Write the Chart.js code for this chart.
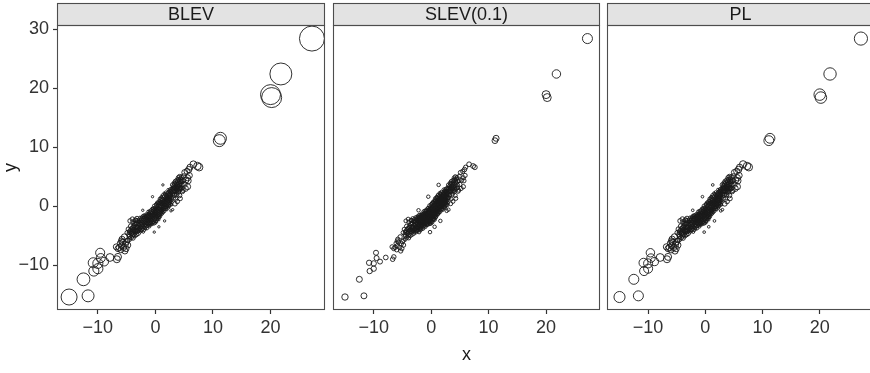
<!DOCTYPE html>
<html>
<head>
<meta charset="utf-8">
<title>BLEV / SLEV / PL subsampling</title>
<script src="https://cdn.jsdelivr.net/npm/chart.js@4.4.1/dist/chart.umd.min.js"></script>
<style>
  html, body { margin: 0; padding: 0; background: #fff; overflow: hidden; }
  #wrap { position: relative; width: 870px; height: 373px; overflow: hidden; }
  canvas { position: absolute; top: 0; }
</style>
</head>
<body>
<div id="wrap">
  <canvas id="c0" width="327" height="373" style="left:0px"></canvas>
  <canvas id="c1" width="278" height="373" style="left:327px"></canvas>
  <canvas id="c2" width="278" height="373" style="left:600px"></canvas>
</div>
<script>
// ---- data ---------------------------------------------------------------
const panelNames = ['BLEV', 'SLEV(0.1)', 'PL'];
const xTickValues = [-10, 0, 10, 20];
const yTickValues = [-10, 0, 10, 20, 30];
const xLimits = [-17.1, 29.4];
const yLimits = [-17.6, 30.7];

// dense centre of the cloud (|x| < 3)
const corePts = [
  [-2.8,-3.9],[-2.7,-2.6],[-2.6,-3.4],[-2.5,-4.1],[-2.5,-2.2],[-2.4,-3.0],[-2.3,-3.7],[-2.3,-1.9],
  [-2.2,-2.7],[-2.1,-3.3],[-2.1,-4.4],[-2.0,-2.3],[-2.0,-1.5],[-1.9,-3.0],[-1.9,-2.6],[-1.8,-3.8],
  [-1.8,-1.9],[-1.7,-2.4],[-1.7,-3.2],[-1.6,-1.3],[-1.6,-2.8],[-1.5,-2.0],[-1.5,-3.5],[-1.4,-2.5],
  [-1.4,-1.6],[-1.3,-3.0],[-1.3,-0.9],[-1.2,-2.1],[-1.2,-2.7],[-1.1,-1.4],[-1.1,-3.3],[-1.0,-1.9],
  [-1.0,-2.4],[-0.9,-0.8],[-0.9,-2.9],[-0.8,-1.6],[-0.8,-2.2],[-0.7,-1.1],[-0.7,-3.1],[-0.6,-1.8],
  [-0.6,-0.4],[-0.5,-2.5],[-0.5,-1.3],[-0.4,-0.9],[-0.4,-2.0],[-0.3,-1.5],[-0.3,0.1],[-0.2,-2.3],
  [-0.2,-0.6],[-0.1,-1.2],[-0.1,-1.9],[0.0,-0.3],[0.0,-1.6],[0.0,-0.9],[0.1,-2.6],[0.1,0.4],
  [0.2,-1.1],[0.2,-0.2],[0.3,-1.8],[0.3,0.7],[0.4,-0.6],[0.4,-1.4],[0.5,0.2],[0.5,-2.1],
  [0.6,-0.9],[0.6,1.0],[0.7,-0.3],[0.7,-1.6],[0.8,0.5],[0.8,-1.1],[0.9,-0.1],[0.9,1.4],
  [1.0,-0.7],[1.0,0.8],[1.1,-1.4],[1.1,0.2],[1.2,1.1],[1.2,-0.4],[1.3,0.6],[1.3,-1.0],
  [1.4,1.7],[1.4,0.0],[1.5,0.9],[1.5,-0.6],[1.6,1.4],[1.6,0.3],[1.7,-0.2],[1.7,2.0],
  [1.8,0.7],[1.8,1.2],[1.9,-0.5],[1.9,1.8],[2.0,0.4],[2.0,1.0],[2.1,2.3],[2.1,0.0],
  [2.2,1.5],[2.2,0.7],[2.3,2.0],[2.3,-0.3],[2.4,1.1],[2.4,2.6],[2.5,0.5],[2.5,1.7],
  [2.6,2.2],[2.6,0.9],[2.7,1.4],[2.7,3.0],[2.8,0.2],[2.8,2.0],
  [-2.2,-1.6],[-1.9,-3.6],[-1.6,-2.2],[-1.3,-2.4],[-1.2,-1.2],[-1.0,-3.0],[-0.9,-1.4],[-0.8,-2.7],
  [-0.6,-2.3],[-0.5,-0.7],[-0.4,-2.8],[-0.3,-1.1],[-0.2,-1.7],[-0.1,-0.4],[0.0,-2.2],[0.1,-1.3],
  [0.2,-0.7],[0.3,-2.3],[0.4,0.1],[0.5,-1.2],[0.6,-0.4],[0.7,0.9],[0.8,-1.9],[0.9,0.3],
  [1.0,-0.2],[1.1,1.5],[1.2,0.4],[1.3,-0.5],[1.4,0.9],[1.5,0.2],[1.6,2.1],[1.7,0.9],
  [1.8,-0.1],[1.9,1.3],[2.0,1.6],[2.1,0.9],[2.2,2.8],[2.3,1.3],[2.4,0.4],[2.5,2.4],
  [2.6,1.5],[-2.6,-2.9],[-2.4,-3.6],[-2.0,-2.8],[-1.7,-1.7],[-1.5,-2.6],[-1.1,-2.0],[-0.7,-1.9],
  [-0.2,-1.0],[0.2,-1.5],
  [1.3,3.6],[-0.5,1.6],[-2.2,-0.7],[0.6,-3.5],[-0.2,-4.4],[2.7,-0.8],[1.6,-2.5],[3.0,-0.6],
  [-3.0,-3.8],[-3.0,-2.6],[-2.9,-4.3],[-2.9,-3.1],[-2.9,-2.2],[-2.8,-3.3],[-2.8,-2.7],[-2.7,-4.0],
  [-2.7,-3.5],[-2.7,-1.9],[-2.6,-4.4],[-2.6,-2.4],[-2.5,-3.6],[-2.5,-2.9],[-2.4,-4.2],[-2.4,-2.5],
  [-2.4,-1.8],[-2.3,-3.2],[-2.3,-2.6],[-2.2,-4.0],[-2.2,-3.5],[-2.2,-2.2],[-2.1,-2.8],[-2.1,-1.9],
  [-2.0,-3.6],[-2.0,-3.1],[-2.0,-2.0],[-1.9,-4.1],[-1.9,-2.2],[-1.8,-3.3],[-1.8,-2.7],[-1.8,-1.5],
  [-1.7,-3.9],[-1.7,-2.0],[-1.6,-3.3],[-1.6,-2.5],[-1.6,-1.8],[-1.5,-3.0],[-1.5,-1.5],[-1.4,-3.8],
  [-1.4,-2.9],[-1.4,-2.1],[-1.3,-3.4],[-1.3,-1.9],[-1.3,-1.3],[-1.2,-3.1],[-1.2,-1.7],[-1.1,-2.6],
  [-1.1,-2.3],[-1.1,-0.8],[-1.0,-3.5],[-1.0,-1.5],[-1.0,-1.2],[-0.9,-2.5],[-0.9,-2.0],[-0.8,-3.2],
  [-0.8,-1.3],[-0.8,-0.6],[-0.7,-2.5],[-0.7,-2.2],[-0.7,-1.4],[-0.6,-2.9],[-0.6,-1.1],[-0.5,-3.1],
  [-0.5,-1.9],[-0.5,-0.3],[-0.4,-2.4],[-0.4,-1.6],[-0.4,-1.2],[-0.3,-2.7],[-0.3,-2.0],[-0.3,-0.6],
  [-0.2,-3.0],[-0.2,-1.4],[-0.2,-0.2],[-0.1,-2.5],[-0.1,-1.6],[-0.1,-0.8],[0.0,-2.9],[0.0,-1.3],
  [0.0,-0.5],[0.0,0.3],[0.1,-2.0],[0.1,-0.9],[0.1,-0.5],[0.2,-2.7],[0.2,-1.8],[0.2,-0.4],
  [0.2,0.5],[0.3,-1.3],[0.3,-1.0],[0.3,0.0],[0.4,-2.3],[0.4,-1.9],[0.4,-0.2],[0.4,0.6],
  [0.5,-1.7],[0.5,-0.8],[0.5,-0.4],[0.6,-2.3],[0.6,-1.3],[0.6,0.4],[0.7,-1.9],[0.7,-0.9],
  [0.7,0.2],[0.7,1.3],[0.8,-1.4],[0.8,-0.6],[0.8,0.9],[0.9,-1.7],[0.9,-0.8],[0.9,0.7],
  [1.0,-1.2],[1.0,-0.4],[1.0,0.3],[1.0,1.6],[1.1,-0.9],[1.1,-0.5],[1.1,0.6],[1.2,-1.3],
  [1.2,-0.1],[1.2,0.8],[1.2,1.9],[1.3,-0.7],[1.3,0.2],[1.3,1.3],[1.4,-1.1],[1.4,-0.4],
  [1.4,0.5],[1.5,-0.2],[1.5,0.5],[1.5,1.2],[1.5,2.2],[1.6,-0.9],[1.6,0.0],[1.6,0.8],
  [1.7,-0.6],[1.7,0.4],[1.7,1.4],[1.7,1.1],[1.8,0.2],[1.8,1.6],[1.8,2.4],[1.9,-0.2],
  [1.9,0.6],[1.9,0.9],[2.0,-0.6],[2.0,0.1],[2.0,1.3],[2.0,2.0],[2.1,0.4],[2.1,1.4],
  [2.1,1.8],[2.2,-0.1],[2.2,0.3],[2.2,1.1],[2.2,2.1],[2.3,0.7],[2.3,1.6],[2.3,2.5],
  [2.4,-0.1],[2.4,0.8],[2.4,1.5],[2.5,0.1],[2.5,1.1],[2.5,2.0],[2.5,2.9],[2.6,0.5],
  [2.6,1.2],[2.6,2.6],[2.7,0.3],[2.7,0.8],[2.7,2.1],[2.8,1.0],[2.8,1.7],[2.8,2.5],
  [2.9,0.6],[2.9,1.4],[2.9,2.2],[2.9,3.1]
];

// shoulders of the cloud (3 < |x| < 5)
const midPts = [
  [-3.0,-3.2],[-3.0,-4.6],[-3.1,-2.5],[-3.2,-3.9],[-3.3,-4.8],[-3.3,-2.9],[-3.4,-3.6],[-3.5,-4.3],
  [-3.5,-2.4],[-3.6,-5.0],[-3.7,-3.3],[-3.8,-4.1],[-3.9,-5.4],[-3.9,-2.7],[-4.0,-3.7],[-4.1,-4.6],
  [-4.2,-5.3],[-4.3,-3.4],[-4.4,-4.2],[-4.5,-5.6],[-4.6,-4.8],[-4.7,-3.9],[-4.8,-5.8],[-4.9,-4.5],
  [-3.2,-2.1],[-4.4,-2.5],[-3.4,-2.4],[-4.0,-2.2],
  [-3.1,-3.6],[-3.1,-4.2],[-3.3,-3.5],[-3.3,-4.1],[-3.4,-3.0],[-3.4,-4.4],[-3.6,-4.0],[-3.6,-3.0],
  [-3.8,-3.6],[-3.8,-4.8],[-4.0,-4.3],[-4.0,-5.0],[-4.2,-3.9],[-4.2,-4.6],[-4.5,-4.4],[-4.5,-5.1],
  [3.0,2.1],[3.0,3.6],[3.1,1.4],[3.2,2.8],[3.3,3.9],[3.3,1.9],[3.4,2.5],[3.5,4.2],
  [3.5,1.2],[3.6,3.1],[3.7,2.0],[3.8,4.4],[3.9,3.3],[4.0,2.4],[4.0,4.8],[4.1,3.7],
  [4.2,1.8],[4.3,4.2],[4.4,3.0],[4.5,4.9],[4.6,3.6],[4.7,2.5],[4.8,4.3],[4.9,5.1],
  [4.3,1.3],[3.8,0.8],[3.4,0.4],[4.2,5.0],[4.8,2.7],
  [3.1,2.4],[3.1,3.0],[3.2,1.9],[3.2,3.4],[3.3,2.6],[3.3,3.2],[3.4,3.0],[3.4,3.7],
  [3.6,2.5],[3.6,3.9],[3.7,3.4],[3.7,2.8],[3.8,3.0],[3.8,3.7],[3.9,2.6],[3.9,4.1],
  [4.1,3.1],[4.1,4.5],[4.2,2.8],[4.2,3.4],[4.4,3.9],[4.4,4.6],[4.6,4.2],[4.6,3.1]
];

// outer part of the cloud (5 < |x| < 7)
const edgePts = [
  [-5.0,-6.0],[-5.2,-6.4],[-5.4,-5.2],[-5.5,-7.0],[-5.7,-6.1],[-5.9,-6.7],[-6.0,-7.4],[-6.1,-6.3],
  [-6.3,-7.0],[-6.5,-7.2],[-6.8,-6.9],[-5.3,-7.6],[-4.8,-6.6],[-5.8,-5.6],[-5.1,-7.2],[-5.9,-5.9],
  [5.1,5.7],[5.3,4.4],[5.5,5.9],[5.6,3.3],[5.9,5.2],[6.0,6.6],[5.2,3.0],[5.6,4.8],[5.0,3.7],[5.7,4.3]
];

// isolated high-leverage points
const tailPts = [
  [27.2,28.4],[21.8,22.4],[20.0,18.9],[20.2,18.4],[11.3,11.5],[11.1,11.1],
  [-15.0,-15.4],[-11.7,-15.2],[-12.5,-12.4],[-10.8,-9.6],[-10.0,-9.7],[-10.7,-11.0],
  [-10.0,-10.6],[-9.5,-8.8],[-9.6,-7.9],[-8.9,-9.4],[-7.9,-8.7],[-6.7,-9.0],
  [-6.5,-8.6],[7.3,6.8],[7.6,6.6],[6.6,7.1],[5.8,6.2]
];

// relative sampling probabilities (n * pi_i), per method
const tailProbBLEV = [61,47,39,39,14,14, 25,14,16,10,10,10, 10,8,8,7.5,6,4.8, 4.8,5.5,5.5,4.5,3.8];
const tailProbSLEV = [9.8,7.0,6.2,6.2,3.5,3.3, 4.0,3.5,3.5,2.8,2.8,2.8, 2.8,2.5,2.5,2.4,2.2,2.0, 2.0,2.3,2.3,2.2,2.0];
const tailProbPL   = [17,15,13,13,9.5,9.5, 12,9.8,9.8,8,8,8, 8,7,7,6.5,6,4.8, 4.8,5.5,5.5,5,4.2];
// core, shoulder, outer
const groupProbBLEV = [0.55, 2.0, 3.5];
const groupProbSLEV = [1.2, 1.5, 1.8];
const groupProbPL   = [0.7, 2.2, 3.8];

// ---- helpers -------------------------------------------------------------
const FONT = '"Liberation Sans", Arial, Helvetica, sans-serif';
const minus = v => String(v).replace('-', '\u2212');

function buildPoints(groupProb, tailProb) {
  const out = [];
  [corePts, midPts, edgePts].forEach((g, gi) => {
    g.forEach(([x, y]) => out.push({ x, y, p: groupProb[gi] }));
  });
  tailPts.forEach(([x, y], i) => out.push({ x, y, p: tailProb[i] }));
  return out;
}

// size scale: area proportional to sampling probability
const radiusOf = p => 1.6 * Math.sqrt(p);

const facetFrame = {
  id: 'facetFrame',
  afterDatasetsDraw(chart, args, opts) {
    const { ctx, chartArea: a } = chart;
    const L = Math.round(a.left) + 0.5, R = Math.round(a.right) - 0.5;
    const T = Math.round(a.top) + 0.5, B = Math.round(a.bottom) - 0.5;
    const S = 3.5;
    ctx.save();
    ctx.fillStyle = '#e3e3e3';
    ctx.fillRect(L, S, R - L, T - S);
    ctx.strokeStyle = '#4d4d4d';
    ctx.lineWidth = 1.1;
    ctx.strokeRect(L, S, R - L, T - S);
    ctx.strokeRect(L, T, R - L, B - T);
    ctx.fillStyle = '#1a1a1a';
    ctx.font = '18px ' + FONT;
    ctx.textAlign = 'center';
    ctx.textBaseline = 'middle';
    ctx.fillText(opts.label, (L + R) / 2, (S + T) / 2 + 1);
    ctx.restore();
  }
};

function zeroPadding(s) {
  s.paddingLeft = 0; s.paddingRight = 0; s.paddingTop = 0; s.paddingBottom = 0;
}

// target plot-area edges (canvas coordinates) for each facet
const areaLeft  = [57, 5, 6];
const areaRight = [325, 273, 274];

function makeChart(id, idx, groupProb, tailProb) {
  const showY = idx === 0;
  const showXTitle = idx === 1;
  const chart = new Chart(document.getElementById(id), {
    type: 'scatter',
    data: {
      datasets: [{
        data: buildPoints(groupProb, tailProb),
        pointRadius: ctx => radiusOf(ctx.raw.p),
        pointBorderWidth: 0.9,
        pointBorderColor: '#1a1a1a',
        pointBackgroundColor: 'rgba(0,0,0,0)',
        pointHoverRadius: ctx => radiusOf(ctx.raw.p)
      }]
    },
    options: {
      responsive: false,
      maintainAspectRatio: false,
      animation: false,
      events: [],
      layout: { padding: { left: showY ? 0 : areaLeft[idx], right: 0, top: 25, bottom: 0 } },
      plugins: {
        legend: { display: false },
        tooltip: { enabled: false },
        facetFrame: { label: panelNames[idx] }
      },
      scales: {
        x: {
          type: 'linear',
          min: xLimits[0], max: xLimits[1],
          afterBuildTicks: s => { s.ticks = xTickValues.map(v => ({ value: v })); },
          afterFit: s => { s.height = 63; zeroPadding(s); },
          border: { display: false },
          grid: { drawOnChartArea: false, drawTicks: true, tickLength: 4, color: '#333', tickWidth: 1.2 },
          ticks: { color: '#333', padding: 3, maxRotation: 0, font: { size: 18, family: FONT }, callback: v => minus(v) },
          title: { display: showXTitle, text: 'x', color: '#1a1a1a', font: { size: 18, family: FONT }, padding: { bottom: 7 } }
        },
        y: {
          type: 'linear',
          display: showY,
          min: yLimits[0], max: yLimits[1],
          afterBuildTicks: s => { s.ticks = yTickValues.map(v => ({ value: v })); },
          afterFit: s => { s.width = showY ? 57 : 0; zeroPadding(s); },
          border: { display: false },
          grid: { drawOnChartArea: false, drawTicks: true, tickLength: 4, color: '#333', tickWidth: 1.2 },
          ticks: { color: '#333', padding: 4, font: { size: 18, family: FONT }, callback: v => minus(v) },
          title: { display: true, text: 'y', color: '#1a1a1a', font: { size: 18, family: FONT }, padding: { top: 0 } }
        }
      }
    },
    plugins: [facetFrame]
  });
  // widen the canvas until the plot area reaches its right edge
  for (let k = 0; k < 4; k++) {
    const dR = areaRight[idx] - chart.chartArea.right;
    if (Math.abs(dR) < 0.5) break;
    chart.resize(Math.round(chart.width + dR), 373);
  }
  return chart;
}

makeChart('c0', 0, groupProbBLEV, tailProbBLEV);
makeChart('c1', 1, groupProbSLEV, tailProbSLEV);
makeChart('c2', 2, groupProbPL, tailProbPL);
</script>
</body>
</html>
